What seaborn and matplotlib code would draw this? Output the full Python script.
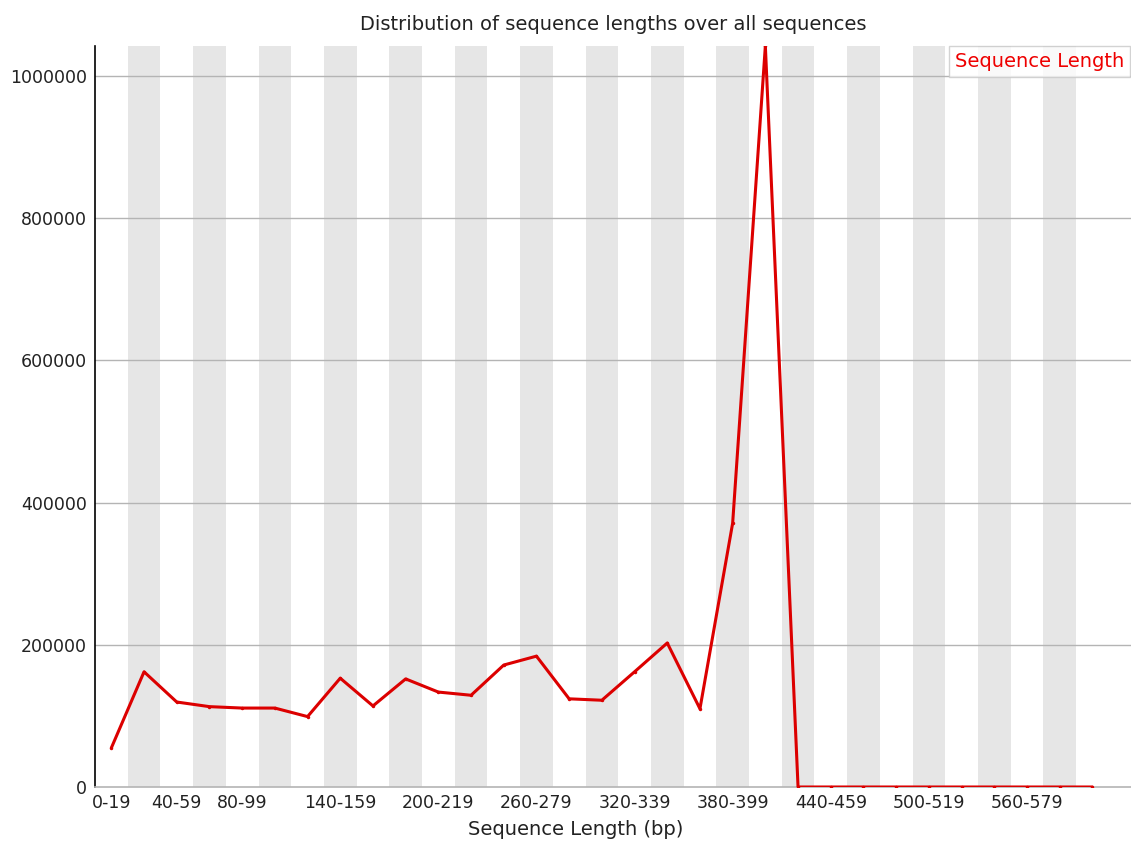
import matplotlib
matplotlib.use("Agg")
import matplotlib.pyplot as plt
import seaborn as sns
import pandas as pd

# Read-length bins (20 bp each) and the number of sequences in each bin
bins = [f"{s}-{s + 19}" for s in range(0, 620, 20)]
counts = [55000, 162000, 119500, 113000, 111000, 111000, 99000, 153000,
          114000, 152000, 133500, 129000, 171500, 184000, 124000, 122000,
          162000, 202500, 110000, 371000, 1042000, 0, 0, 0, 0, 0, 0, 0, 0, 0, 0]
shown_labels = ["0-19", "40-59", "80-99", "140-159", "200-219", "260-279",
                "320-339", "380-399", "440-459", "500-519", "560-579"]
y_ticks = [0, 200000, 400000, 600000, 800000, 1000000]

df = pd.DataFrame({"bin": bins, "count": counts})

sns.set_theme(style="white")
plt.rcParams["font.family"] = ["DejaVu Sans"]

fig = plt.figure(figsize=(11.31, 8.44), dpi=100)
ax = fig.add_axes([95 / 1131, 1 - 787 / 844, 1 - 95 / 1131, (787 - 46) / 844])

# alternating grey column bands behind each bin
for i in range(len(bins)):
    if i % 2 == 1:
        ax.axvspan(i - 0.5, i + 0.5, color="#e6e6e6", lw=0, zorder=0)

for yt in y_ticks[1:]:
    ax.axhline(yt, color="#b4b4b4", lw=1.0, zorder=1)

sns.lineplot(data=df, x="bin", y="count", ax=ax, color="#dc0000", lw=2.2,
             marker="o", markersize=2.5, markeredgewidth=0, sort=False,
             label="Sequence Length", zorder=3)

step = 1131 - 95
ax.set_xlim(-0.5, step / 32.7 - 0.5)
ax.set_ylim(0, max(counts))
ax.set_yticks(y_ticks)
ax.set_yticklabels([str(v) for v in y_ticks])
ax.set_xticks([bins.index(b) for b in shown_labels])
ax.set_xticklabels(shown_labels)
ax.tick_params(axis="both", length=0, labelsize=12.5, colors="#222222")
ax.tick_params(axis="y", pad=6)
ax.tick_params(axis="x", pad=5)

for side in ["top", "right"]:
    ax.spines[side].set_visible(False)
ax.spines["left"].set_color("black")
ax.spines["left"].set_linewidth(1.2)
ax.spines["bottom"].set_color("#b4b4b4")
ax.spines["bottom"].set_linewidth(1.2)

ax.set_xlabel("Sequence Length (bp)", fontsize=14, color="#222222")
ax.xaxis.set_label_coords((576 - 95) / step, -0.045)
ax.set_ylabel("")
fig.text(613 / 1131, 1 - 25 / 844, "Distribution of sequence lengths over all sequences",
         ha="center", va="center", fontsize=14, color="#222222")

leg = ax.legend(loc="upper right", handlelength=0, handletextpad=0,
                frameon=True, fancybox=False, fontsize=14,
                labelcolor="#ee0000", borderpad=0.3, borderaxespad=0)
for h in leg.legend_handles:
    h.set_visible(False)
leg.get_frame().set_edgecolor("#c8c8c8")
leg.get_frame().set_linewidth(1.0)
leg.set_bbox_to_anchor((1130 / 1131, 1 - 46 / 844), transform=fig.transFigure)

fig.savefig("out.png", dpi=100)
